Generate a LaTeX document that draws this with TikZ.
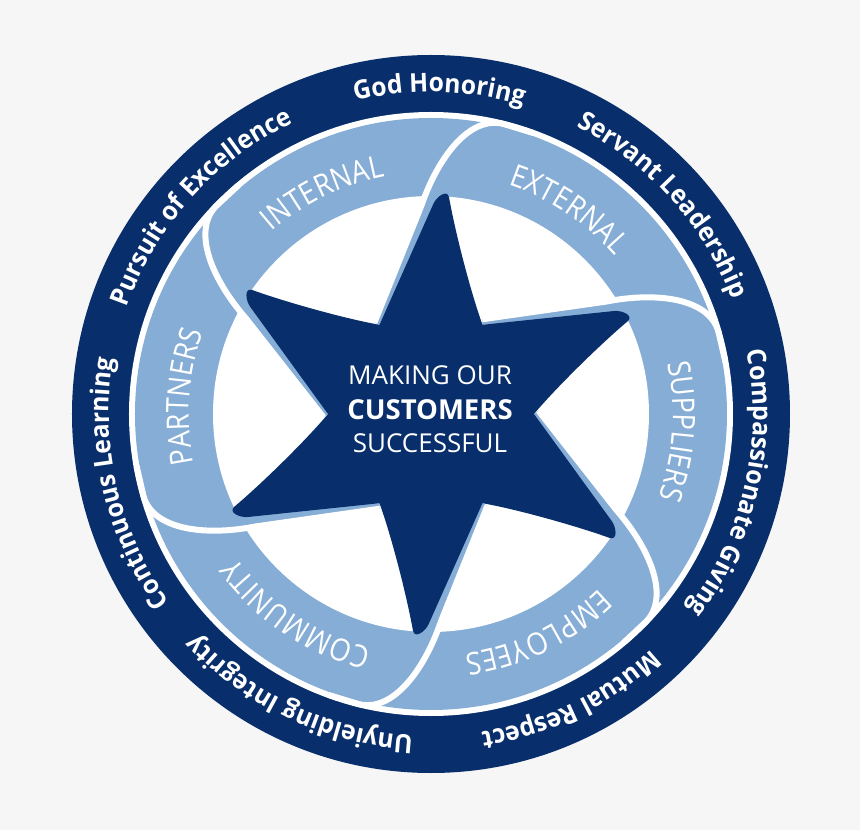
\documentclass[tikz,border=0pt]{standalone}
\usepackage{fontspec}
\setmainfont{Open Sans}
\newfontfamily\ringfont[FakeStretch=0.95]{Open Sans}
\newfontfamily\labelfont[FakeStretch=0.88]{Open Sans}
\usetikzlibrary{decorations.text}
\definecolor{navy}{HTML}{082E6B}
\definecolor{sky}{HTML}{86ADD6}
\definecolor{bg}{HTML}{F6F6F6}
\tikzset{
  ringtext/.style={decorate, decoration={text along path, text align=center, text color=white}},
  bandtext/.style={decorate, decoration={text along path, text align=center, text color=white}},
  centerline/.style={anchor=base, text=white, inner sep=0pt}
}
\begin{document}
\begin{tikzpicture}[x=1pt,y=1pt]
\useasboundingbox (-431,-416) rectangle (429,414);
\fill[bg] (-431,-416) rectangle (429,414);
\fill[navy] (0,0) circle[radius=359];
\fill[white] (0,0) circle[radius=302];
\begin{scope}
  \clip (0,0) circle[radius=302];
  \fill[sky] (0,0) circle[radius=296];
  \fill[white] (0,0) circle[radius=218];
  \foreach \a in {0,60,...,300}{
    \fill[sky] (\a+60:103) -- (\a+61.6:107.7) -- (\a+32.6:208.9)
      .. controls (\a+28.5:256) and (\a+22.7:301) .. (\a+16:299)
      -- (\a+27.1:219) -- cycle;
  }
  \foreach \a in {0,60,...,300}{
    \draw[white, line width=6] (\a+61.6:107.7) -- (\a+32.6:208.9)
      .. controls (\a+28.5:256) and (\a+22.7:301) .. (\a+16:299) -- (\a+10:299);
  }
\end{scope}
% star
\fill[navy] (0:103) \foreach \a in {0,60,...,300}{
    .. controls (\a+12.05:128.3) and (\a+22.5:184.2) .. (\a+25.27:217.8)
    .. controls (\a+25.96:225.5) and (\a+28.52:217.4) .. (\a+29.37:210.0)
    -- (\a+60:103) } -- cycle;
% centre text
\node[centerline, font=\fontsize{26}{30}\selectfont] (l1) at (-1,29) {MAKING OUR};
\node[centerline, font=\bfseries\fontsize{27.5}{30}\selectfont] (l2) at (-1,-6) {CUSTOMERS};
\node[centerline, font=\fontsize{26}{30}\selectfont] (l3) at (-1,-38) {SUCCESSFUL};
% band labels
\path[bandtext, decoration={text={|\labelfont\fontsize{31}{33}\selectfont|INTERNAL}}] (186:242) arc[start angle=186, end angle=46, radius=242];
\path[bandtext, decoration={text={|\labelfont\fontsize{31}{33}\selectfont|EXTERNAL}}] (126:242) arc[start angle=126, end angle=-14, radius=242];
\path[bandtext, decoration={text={|\labelfont\fontsize{31}{33}\selectfont|SUPPLIERS}}] (66:242) arc[start angle=66, end angle=-74, radius=242];
\path[bandtext, decoration={text={|\labelfont\fontsize{31}{33}\selectfont|EMPLOYEES}}] (6:242) arc[start angle=6, end angle=-134, radius=242];
\path[bandtext, decoration={text={|\labelfont\fontsize{31}{33}\selectfont|COMMUNITY}}] (-54:242) arc[start angle=-54, end angle=-194, radius=242];
\path[bandtext, decoration={text={|\labelfont\fontsize{31}{33}\selectfont|PARTNERS}}] (246:242) arc[start angle=246, end angle=106, radius=242];
% ring texts
\path[ringtext, decoration={text={|\ringfont\bfseries\fontsize{26}{30}\selectfont|God Honoring}}] (158.5:322) arc[start angle=158.5, end angle=18.5, radius=322];
\path[ringtext, decoration={text={|\ringfont\bfseries\fontsize{26}{30}\selectfont|Servant Leadership}}] (112:322) arc[start angle=112, end angle=-28, radius=322];
\path[ringtext, decoration={text={|\ringfont\bfseries\fontsize{26}{30}\selectfont|Compassionate Giving}}] (57:322) arc[start angle=57, end angle=-83, radius=322];
\path[ringtext, decoration={text={|\ringfont\bfseries\fontsize{26}{30}\selectfont|Mutual Respect}}] (6:322) arc[start angle=6, end angle=-134, radius=322];
\path[ringtext, decoration={text={|\ringfont\bfseries\fontsize{26}{30}\selectfont|Unyielding Integrity}}] (-45:322) arc[start angle=-45, end angle=-185, radius=322];
\path[ringtext, decoration={text={|\ringfont\bfseries\fontsize{26}{30}\selectfont|Continuous Learning}}] (263:322) arc[start angle=263, end angle=123, radius=322];
\path[ringtext, decoration={text={|\ringfont\bfseries\fontsize{26}{30}\selectfont|Pursuit of Excellence}}] (208:322) arc[start angle=208, end angle=68, radius=322];
\end{tikzpicture}
\end{document}
